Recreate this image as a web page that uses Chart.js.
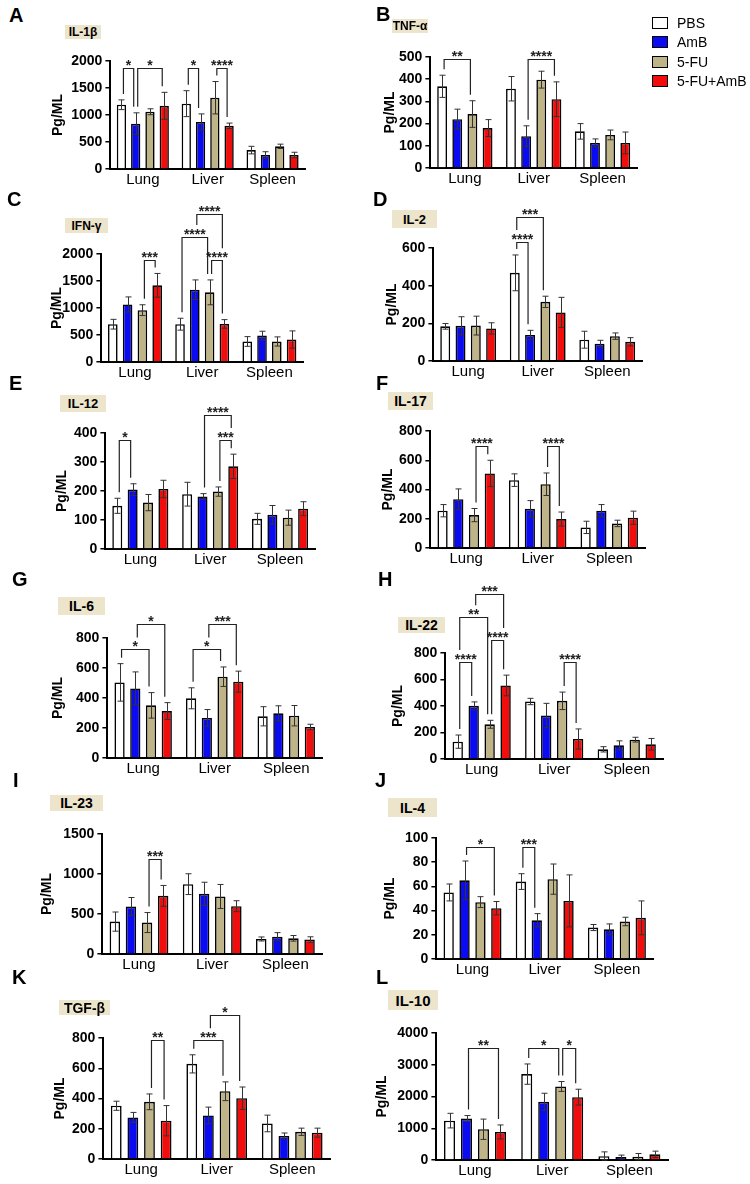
<!DOCTYPE html>
<html>
<head>
<meta charset="utf-8">
<script src="https://cdn.jsdelivr.net/npm/chart.js@4/dist/chart.umd.min.js"></script>
<style>
  html, body { margin: 0; padding: 0; background: #fff; }
  body { width: 750px; height: 1184px; position: relative; overflow: hidden; font-family: "Liberation Sans", Arial, sans-serif; color: #000; }
  canvas { position: absolute; }
  .letter { position: absolute; font-weight: bold; font-size: 20px; line-height: 20px; }
  .tag { position: absolute; background: #ece4cb; font-weight: bold; display: flex; align-items: center; justify-content: center; white-space: nowrap; }
  .lg-box { position: absolute; width: 16px; height: 12px; box-sizing: border-box; border: 1.5px solid #000; }
  .lg-text { position: absolute; font-size: 14px; line-height: 14px; white-space: nowrap; }
</style>
</head>
<body>
<script>
const categories = ["Lung", "Liver", "Spleen"];
const groups = ["PBS", "AmB", "5-FU", "5-FU+AmB"];
const groupColors = ["#ffffff", "#0b0bf2", "#bfb488", "#f20d0d"];

// rows: PBS, AmB, 5-FU, 5-FU+AmB ; columns: Lung, Liver, Spleen
const il1bMean = [[1190, 1210, 350], [840, 870, 260], [1060, 1320, 420], [1170, 800, 260]];
const il1bErr = [[90, 240, 70], [200, 150, 60], [55, 300, 40], [250, 50, 50]];
const tnfMean = [[368, 357, 165], [220, 143, 113], [243, 398, 149], [180, 310, 113]];
const tnfErr = [[50, 55, 35], [45, 47, 18], [60, 38, 22], [38, 78, 49]];
const ifngMean = [[700, 700, 380], [1065, 1340, 490], [960, 1290, 380], [1420, 705, 416]];
const ifngErr = [[90, 110, 90], [140, 180, 80], [100, 230, 85], [220, 80, 160]];
const il2Mean = [[184, 468, 113], [187, 138, 92], [188, 314, 132], [173, 258, 102]];
const il2Err = [[15, 95, 45], [48, 25, 18], [50, 30, 17], [30, 80, 22]];
const il12Mean = [[149, 189, 104], [205, 181, 118], [160, 198, 108], [207, 285, 139]];
const il12Err = [[26, 41, 19], [20, 10, 32], [28, 16, 26], [30, 42, 24]];
const il17Mean = [[255, 464, 141], [334, 268, 255], [225, 436, 168], [510, 198, 207]];
const il17Err = [[42, 43, 42], [70, 56, 42], [45, 77, 22], [90, 48, 45]];
const il6Mean = [[504, 398, 278], [464, 267, 298], [351, 542, 282], [313, 509, 207]];
const il6Err = [[125, 70, 64], [110, 56, 50], [85, 65, 68], [56, 70, 18]];
const il22Mean = [[131, 434, 73], [401, 328, 103], [262, 439, 146], [555, 151, 111]];
const il22Err = [[50, 24, 20], [30, 92, 34], [30, 66, 18], [78, 76, 44]];
const il23Mean = [[405, 873, 188], [593, 752, 217], [393, 719, 196], [727, 598, 180]];
const il23Err = [[120, 130, 25], [113, 145, 50], [125, 150, 35], [130, 68, 35]];
const il4Mean = [[55, 64, 26], [65, 32, 24.5], [47, 66, 31], [42, 48, 34]];
const il4Err = [[7, 6.5, 2.5], [16, 5.5, 4.5], [4.5, 12.5, 3.5], [5.5, 21.5, 14]];
const tgfbMean = [[352, 629, 235], [275, 288, 152], [378, 448, 180], [253, 402, 174]];
const tgfbErr = [[30, 60, 55], [33, 55, 20], [52, 62, 24], [100, 74, 30]];
const il10Mean = [[1240, 2705, 116], [1305, 1832, 95], [968, 2316, 105], [884, 1979, 179]];
const il10Err = [[230, 320, 140], [95, 270, 60], [320, 155, 100], [220, 250, 100]];

// significance: [category, group a, group b, bracket level (y units), stars]
const il1bSig = [[0, 0, 1, 1865, "*"], [0, 1, 3, 1865, "*"], [1, 0, 1, 1865, "*"], [1, 2, 3, 1865, "****"]];
const tnfSig = [[0, 0, 2, 492, "**"], [1, 1, 3, 492, "****"]];
const ifngSig = [[0, 2, 3, 1882, "***"], [1, 0, 2, 2317, "****"], [1, 1, 3, 2733, "****"], [1, 2, 3, 1882, "****"]];
const il2Sig = [[1, 0, 1, 632, "****"], [1, 0, 2, 762, "***"]];
const il12Sig = [[0, 0, 1, 376, "*"], [1, 1, 3, 461, "****"], [1, 2, 3, 376, "***"]];
const il17Sig = [[0, 2, 3, 698, "****"], [1, 2, 3, 698, "****"]];
const il6Sig = [[0, 0, 2, 724, "*"], [0, 1, 3, 891, "*"], [1, 0, 2, 724, "*"], [1, 1, 3, 891, "***"]];
const il22Sig = [[0, 0, 1, 732, "****"], [0, 2, 3, 898, "****"], [0, 0, 2, 1070, "**"], [0, 1, 3, 1242, "***"], [1, 2, 3, 732, "****"]];
const il23Sig = [[0, 2, 3, 1191, "***"]];
const il4Sig = [[0, 1, 3, 92.3, "*"], [1, 0, 1, 92.3, "***"]];
const tgfbSig = [[0, 2, 3, 785, "**"], [1, 0, 2, 785, "***"], [1, 1, 3, 954, "*"]];
const il10Sig = [[0, 1, 3, 3526, "**"], [1, 0, 2, 3526, "*"], [1, 2, 3, 3526, "*"]];

const panelLetters = ["A", "B", "C", "D", "E", "F", "G", "H", "I", "J", "K", "L"];
const cytokines = ["IL-1β", "TNF-α", "IFN-γ", "IL-2", "IL-12", "IL-17", "IL-6", "IL-22", "IL-23", "IL-4", "TGF-β", "IL-10"];
const yMax = [2000, 500, 2000, 600, 400, 800, 800, 800, 1500, 100, 800, 4000];
const yStep = [500, 100, 500, 200, 100, 200, 200, 200, 500, 20, 200, 1000];
const means = [il1bMean, tnfMean, ifngMean, il2Mean, il12Mean, il17Mean, il6Mean, il22Mean, il23Mean, il4Mean, tgfbMean, il10Mean];
const errs = [il1bErr, tnfErr, ifngErr, il2Err, il12Err, il17Err, il6Err, il22Err, il23Err, il4Err, tgfbErr, il10Err];
const sigs = [il1bSig, tnfSig, ifngSig, il2Sig, il12Sig, il17Sig, il6Sig, il22Sig, il23Sig, il4Sig, tgfbSig, il10Sig];

// page placement: y-axis x, top tick y, zero y, x-axis end, gap axis -> y title
const frames = [
  { ax: 110, ty: 61, zy: 169, xe: 305, tg: 52 },
  { ax: 430, ty: 57, zy: 168, xe: 637, tg: 40 },
  { ax: 101, ty: 254, zy: 362, xe: 303, tg: 44 },
  { ax: 433, ty: 248, zy: 361, xe: 642, tg: 41 },
  { ax: 105, ty: 433, zy: 549, xe: 315, tg: 43 },
  { ax: 430, ty: 431, zy: 548, xe: 645, tg: 42 },
  { ax: 107, ty: 638, zy: 758, xe: 322, tg: 49 },
  { ax: 445, ty: 653, zy: 759, xe: 663, tg: 47 },
  { ax: 102, ty: 834, zy: 954, xe: 322, tg: 55 },
  { ax: 436, ty: 838, zy: 959, xe: 653, tg: 46 },
  { ax: 103, ty: 1038, zy: 1159, xe: 330, tg: 43 },
  { ax: 436, ty: 1033, zy: 1160, xe: 668, tg: 54 },
];
const letterPos = [[9, 7], [376, 6], [7, 191], [373, 191], [9, 375], [376, 375], [12, 571], [378, 571], [13, 772], [375, 772], [12, 969], [376, 969]];
const tagPos = [
  [65, 25, 36, 14, 12], [392, 19, 36, 14, 12], [65, 218, 43, 15, 12], [392, 210, 45, 18, 13],
  [60, 395, 46, 17, 13], [388, 392, 45, 18, 14], [58, 597, 47, 18, 14], [398, 617, 47, 16, 14],
  [50, 795, 53, 16, 14], [388, 798, 49, 19, 14], [59, 1000, 51, 15, 14], [388, 990, 50, 20, 15],
];

const FONT = '"Liberation Sans", Arial, sans-serif';
Chart.defaults.font.family = FONT;
Chart.defaults.color = "#000";

const errorBars = {
  id: "errorBars",
  afterDatasetsDraw(chart) {
    const ctx = chart.ctx;
    const y = chart.scales.y;
    ctx.save();
    ctx.strokeStyle = "#333";
    ctx.lineWidth = 1;
    chart.data.datasets.forEach((ds, di) => {
      chart.getDatasetMeta(di).data.forEach((bar, i) => {
        const v = ds.data[i];
        const e = ds.errs[i];
        const top = y.getPixelForValue(v + e);
        const bot = y.getPixelForValue(Math.max(0, v - e));
        const x = Math.round(bar.x) + 0.5;
        ctx.beginPath();
        ctx.moveTo(x, top);
        ctx.lineTo(x, bot);
        ctx.moveTo(x - 3, top);
        ctx.lineTo(x + 3, top);
        ctx.moveTo(x - 3, bot);
        ctx.lineTo(x + 3, bot);
        ctx.stroke();
      });
    });
    ctx.restore();
  },
};

const brackets = {
  id: "brackets",
  afterDatasetsDraw(chart, args, opts) {
    const items = opts.items || [];
    const ctx = chart.ctx;
    const y = chart.scales.y;
    const legX = (cat, g, side) => chart.getDatasetMeta(g).data[cat].x + side * 2;
    const errTop = (cat, g) => {
      const ds = chart.data.datasets[g];
      return y.getPixelForValue(ds.data[cat] + ds.errs[cat]);
    };
    const foot = (x, cat, g, level) => {
      let b = errTop(cat, g) - 6;
      items.forEach((o) => {
        if (o[0] !== cat || o[3] >= level) return;
        const ox1 = legX(o[0], o[1], 1) - 3;
        const ox2 = legX(o[0], o[2], -1) + 3;
        if (x >= ox1 && x <= ox2) b = Math.min(b, y.getPixelForValue(o[3]) - 12);
      });
      return b;
    };
    ctx.save();
    ctx.strokeStyle = "#222";
    ctx.lineWidth = 1.2;
    ctx.fillStyle = "#222";
    ctx.font = "bold 14px " + FONT;
    ctx.textAlign = "center";
    ctx.textBaseline = "alphabetic";
    items.forEach(([cat, g1, g2, level, label]) => {
      const ly = Math.round(y.getPixelForValue(level)) + 0.5;
      const x1 = legX(cat, g1, 1);
      const x2 = legX(cat, g2, -1);
      ctx.beginPath();
      ctx.moveTo(x1, foot(x1, cat, g1, level));
      ctx.lineTo(x1, ly);
      ctx.lineTo(x2, ly);
      ctx.lineTo(x2, foot(x2, cat, g2, level));
      ctx.stroke();
      ctx.fillText(label, (x1 + x2) / 2, ly + 1);
    });
    ctx.restore();
  },
};

const PAD_TOP = 80, PAD_RIGHT = 8, X_H = 24;

frames.forEach((f, pi) => {
  const yw = f.tg + 12.4;
  const left = f.ax - yw;
  const top = f.ty - PAD_TOP;
  const canvas = document.createElement("canvas");
  canvas.width = Math.round(f.xe - left + PAD_RIGHT);
  canvas.height = Math.round(f.zy - top + X_H);
  canvas.style.left = left + "px";
  canvas.style.top = top + "px";
  document.body.appendChild(canvas);

  new Chart(canvas, {
    type: "bar",
    data: {
      labels: categories,
      datasets: groups.map((g, gi) => ({
        label: g,
        data: means[pi][gi],
        errs: errs[pi][gi],
        backgroundColor: groupColors[gi],
        borderColor: "#000",
        borderWidth: 1.6,
        barPercentage: 0.65,
        categoryPercentage: 0.88,
      })),
    },
    options: {
      responsive: false,
      animation: false,
      layout: { padding: { top: PAD_TOP, right: PAD_RIGHT, left: 0, bottom: 0 } },
      plugins: {
        legend: { display: false },
        tooltip: { enabled: false },
        brackets: { items: sigs[pi] },
      },
      scales: {
        x: {
          offset: true,
          grid: { display: false, drawTicks: false },
          border: { display: true, color: "#000", width: 2 },
          ticks: { color: "#000", font: { size: 15 }, padding: 2 },
          afterFit: (s) => { s.height = X_H; },
        },
        y: {
          min: 0,
          max: yMax[pi],
          ticks: {
            stepSize: yStep[pi],
            color: "#000",
            font: { size: 14, weight: "bold" },
            padding: 3,
            callback: (v) => String(v),
          },
          grid: { display: true, drawOnChartArea: false, drawTicks: true, tickLength: 5, color: "#000", lineWidth: 1.5 },
          border: { display: true, color: "#000", width: 2 },
          title: { display: true, text: "Pg/ML", color: "#000", font: { size: 14, weight: "bold" } },
          afterFit: (s) => { s.width = yw; },
        },
      },
    },
    plugins: [errorBars, brackets],
  });

  const letter = document.createElement("div");
  letter.className = "letter";
  letter.textContent = panelLetters[pi];
  letter.style.left = letterPos[pi][0] + "px";
  letter.style.top = (letterPos[pi][1] - 2) + "px";
  document.body.appendChild(letter);

  const t = tagPos[pi];
  const tag = document.createElement("div");
  tag.className = "tag";
  tag.textContent = cytokines[pi];
  tag.style.left = t[0] + "px";
  tag.style.top = t[1] + "px";
  tag.style.width = t[2] + "px";
  tag.style.height = t[3] + "px";
  tag.style.fontSize = t[4] + "px";
  document.body.appendChild(tag);
});

// legend beside panel B
const legendRows = [23, 42, 62, 81];
groups.forEach((g, gi) => {
  const box = document.createElement("div");
  box.className = "lg-box";
  box.style.left = "652px";
  box.style.top = (legendRows[gi] - 6) + "px";
  box.style.background = groupColors[gi];
  document.body.appendChild(box);
  const txt = document.createElement("div");
  txt.className = "lg-text";
  txt.textContent = g;
  txt.style.left = "677px";
  txt.style.top = (legendRows[gi] - 7) + "px";
  document.body.appendChild(txt);
});
</script>
</body>
</html>
